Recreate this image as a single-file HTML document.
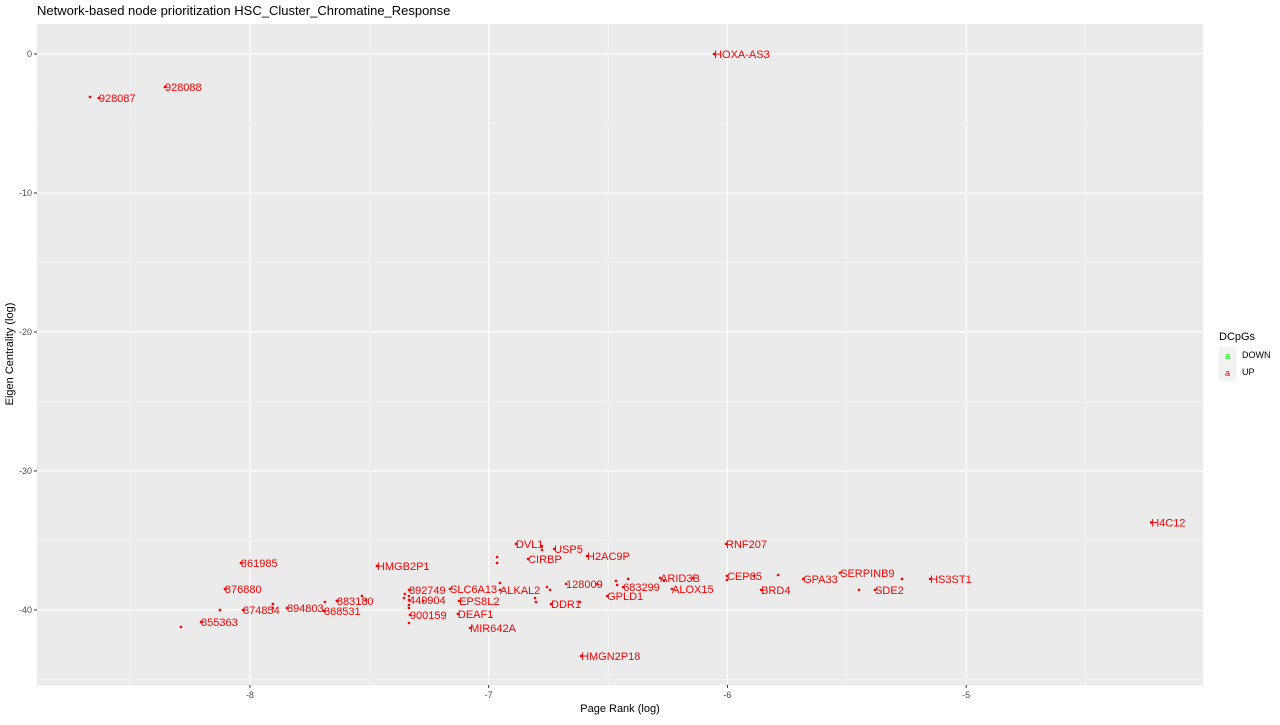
<!DOCTYPE html>
<html><head><meta charset="utf-8"><style>
body{margin:0;background:#fff;font-family:"Liberation Sans",sans-serif}
svg text{font-family:"Liberation Sans",sans-serif}
</style></head><body>
<svg id="chart" width="1280" height="720" xmlns="http://www.w3.org/2000/svg">
<rect width="1280" height="720" fill="#fff"/>
<text x="37" y="15" font-size="13" fill="#000">Network-based node prioritization HSC_Cluster_Chromatine_Response</text>
<rect x="37" y="24" width="1166" height="661" fill="#ebebeb"/>
<g id="grid"></g><g id="marks"></g><g id="axes"></g>
<text x="620" y="712" font-size="11" text-anchor="middle">Page Rank (log)</text>
<text transform="translate(13,354) rotate(-90)" font-size="11" text-anchor="middle">Eigen Centrality (log)</text>
<g>
<text x="1219" y="340" font-size="11">DCpGs</text>
<rect x="1219" y="347" width="17" height="17" fill="#f2f2f2"/>
<text x="1227.5" y="359" font-size="9" fill="#00ff00" text-anchor="middle">a</text>
<text x="1242" y="358" font-size="9">DOWN</text>
<rect x="1219" y="364" width="17" height="17" fill="#f2f2f2"/>
<text x="1227.5" y="376" font-size="9" fill="#ff0000" text-anchor="middle">a</text>
<text x="1242" y="375" font-size="9">UP</text>
</g>
</svg>
<script>
const labels=["HOXA-AS3","928087","928088","H4C12","RNF207","CEP85","BRD4","GPA33","SERPINB9","SDE2","HS3ST1","ARID3B","ALOX15","683299","GPLD1","128009","DDR1","HMGN2P18","H2AC9P","USP5","CIRBP","DVL1","ALKAL2","SLC6A13","EPS8L2","DEAF1","MIR642A","892749","449904","900159","HMGB2P1","883180","868531","894803","874854","876880","861985","855363"];
const pageRank=[-6.056,-8.633,-8.356,-4.225,-6.006,-6.002,-5.859,-5.683,-5.528,-5.382,-5.151,-6.282,-6.232,-6.437,-6.504,-6.676,-6.739,-6.613,-6.588,-6.726,-6.835,-6.886,-6.953,-7.162,-7.124,-7.129,-7.078,-7.334,-7.334,-7.330,-7.468,-7.636,-7.690,-7.845,-8.029,-8.105,-8.038,-8.205];
const eigen=[0,-3.17,-2.37,-33.7,-35.25,-37.55,-38.56,-37.77,-37.34,-38.56,-37.77,-37.7,-38.49,-38.35,-38.99,-38.13,-39.57,-43.31,-36.12,-35.61,-36.33,-35.25,-38.56,-38.49,-39.35,-40.29,-41.29,-38.56,-39.28,-40.36,-36.83,-39.35,-40.07,-39.86,-40.0,-38.49,-36.62,-40.86];
const extraPageRank=[-8.670,-8.289,-8.126,-7.904,-7.904,-7.686,-7.531,-7.514,-7.351,-7.355,-7.334,-7.334,-7.334,-7.334,-7.275,-6.965,-6.965,-6.777,-6.777,-6.756,-6.743,-6.806,-6.802,-6.618,-6.546,-6.467,-6.416,-6.462,-6.266,-6.144,-6.002,-5.889,-5.788,-5.449,-5.269,-6.953];
const extraEigen=[-3.09,-41.22,-40.0,-39.57,-39.86,-39.42,-38.99,-39.28,-38.85,-39.14,-39.64,-39.86,-39.0,-40.94,-39.35,-36.19,-36.62,-35.40,-35.68,-38.35,-38.56,-39.14,-39.42,-39.42,-38.13,-37.91,-37.77,-38.2,-37.91,-37.7,-37.84,-37.55,-37.48,-38.56,-37.77,-38.06];
const xTicks=[-8,-7,-6,-5];
const yTicks=[0,-10,-20,-30,-40];
const X0=37,X1=1203,Y0=24,Y1=685,xMin=-8.892,xMax=-4.008,yMin=-45.4,yMax=2.16;
const sx=v=>X0+(v-xMin)/(xMax-xMin)*(X1-X0);
const sy=v=>Y1-(v-yMin)/(yMax-yMin)*(Y1-Y0);
const NS="http://www.w3.org/2000/svg";
function mk(tag,attrs,parent){const e=document.createElementNS(NS,tag);for(const k in attrs)e.setAttribute(k,attrs[k]);parent.appendChild(e);return e;}
const grid=document.getElementById('grid'),marks=document.getElementById('marks'),axes=document.getElementById('axes');
xTicks.forEach(t=>{
  [t-0.5,t+0.5].forEach(m=>{if(m>xMin&&m<xMax){const l=mk('line',{x1:sx(m),x2:sx(m),y1:Y0,y2:Y1,stroke:'#f5f5f5','stroke-width':0.6},grid);
  
  }});
  const g=mk('line',{x1:sx(t),x2:sx(t),y1:Y0,y2:Y1,stroke:'#fff','stroke-width':1.1},grid);
  
  
  mk('line',{x1:sx(t),x2:sx(t),y1:Y1,y2:Y1+3,stroke:'#333'},axes);
  const tx=mk('text',{x:sx(t),y:Y1+13,'font-size':9,fill:'#4d4d4d','text-anchor':'middle'},axes);tx.textContent=t;
  
  
});
yTicks.forEach(t=>{
  [t+5].forEach(m=>{if(m>yMin&&m<yMax){const l=mk('line',{x1:X0,x2:X1,y1:sy(m),y2:sy(m),stroke:'#f5f5f5','stroke-width':0.6},grid);
  
  }});
  const g=mk('line',{x1:X0,x2:X1,y1:sy(t),y2:sy(t),stroke:'#fff','stroke-width':1.1},grid);
  
  
  mk('line',{x1:X0-3,x2:X0,y1:sy(t),y2:sy(t),stroke:'#333'},axes);
  const tx=mk('text',{x:X0-5,y:sy(t)+3,'font-size':9,fill:'#4d4d4d','text-anchor':'end'},axes);tx.textContent=t;
  
  
});
{const m=-45;const l=mk('line',{x1:X0,x2:X1,y1:sy(m),y2:sy(m),stroke:'#f5f5f5','stroke-width':0.6},grid);

}
extraPageRank.forEach((v,i)=>{
  const c=mk('circle',{cx:sx(v),cy:sy(extraEigen[i]),r:1.3,fill:'#ff0000'},marks);
  
  
});
labels.forEach((lab,i)=>{
  const x=sx(pageRank[i]),y=sy(eigen[i]);
  const c=mk('circle',{cx:x,cy:y,r:1.3,fill:'#ff0000'},marks);
  
  
  const t=mk('text',{x:x,y:y+4,'font-size':11,fill:'#ff0000'},marks);t.textContent=lab;
  
  
});
</script>
</body></html>
